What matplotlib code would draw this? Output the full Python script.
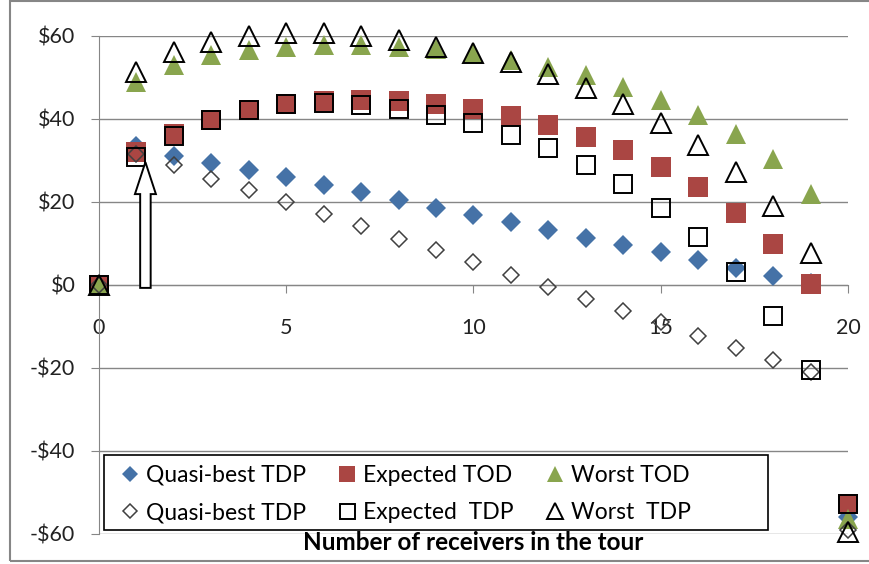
import matplotlib.pyplot as plt
from matplotlib.patches import FancyArrow, Rectangle

plt.rcParams['font.family'] = ['Lato', 'DejaVu Sans']

# numero de receptores no tour
receptores = list(range(21))

# TOD (marcadores cheios)
quasi_tod = [0, 33.5, 31.2, 29.4, 27.6, 26.0, 24.2, 22.3, 20.4, 18.6, 16.8,
             15.1, 13.2, 11.4, 9.6, 7.9, 6.0, 4.2, 2.2, 0.5, -55.8]
esperado_tod = [0, 32.0, 36.5, 39.8, 42.2, 43.5, 44.3, 44.6, 44.3, 43.5, 42.3,
                40.6, 38.5, 35.6, 32.5, 28.4, 23.5, 17.4, 9.8, 0.2, -52.8]
pior_tod = [0, 48.9, 53.0, 55.3, 56.6, 57.4, 57.8, 57.8, 57.4, 56.9, 55.8,
            54.1, 52.6, 50.5, 47.8, 44.6, 40.9, 36.3, 30.3, 21.9, -56.5]

# TDP (marcadores vazios)
quasi_tdp = [0, 31.6, 29.0, 25.6, 22.8, 20.0, 17.2, 14.3, 11.2, 8.4, 5.5,
             2.4, -0.4, -3.4, -6.2, -9.0, -12.2, -15.1, -18.0, -21.0, -59.0]
esperado_tdp = [0, 30.8, 36.0, 39.8, 42.2, 43.5, 43.8, 43.4, 42.5, 41.0, 39.0,
                36.2, 33.0, 29.0, 24.3, 18.6, 11.6, 3.2, -7.5, -20.6, -52.8]
pior_tdp = [0, 51.4, 56.1, 58.6, 60.1, 60.6, 60.6, 60.1, 59.0, 57.4, 55.8,
            53.7, 50.9, 47.4, 43.7, 39.1, 33.8, 27.2, 19.0, 7.6, -59.5]

y_ticks = [-60, -40, -20, 0, 20, 40, 60]
y_labels = ['-$60', '-$40', '-$20', '$0', '$20', '$40', '$60']
x_ticks = [0, 5, 10, 15, 20]

azul = '#4572A7'
vermelho = '#AA4643'
verde = '#89A54E'
cinza = '#868686'

fig = plt.figure(figsize=(8.69, 5.64), dpi=100)
ax = fig.add_axes([0.1139, 0.0532, 0.8619, 0.883])

h1, = ax.plot(receptores, quasi_tod, 'D', color=azul, ms=10, mew=0, clip_on=False, zorder=3)
h2, = ax.plot(receptores, esperado_tod, 's', color=vermelho, ms=14, mew=0, clip_on=False, zorder=3)
h3, = ax.plot(receptores, pior_tod, '^', color=verde, ms=14.5, mew=0, clip_on=False, zorder=3)
h4, = ax.plot(receptores, quasi_tdp, 'D', mfc='none', mec='#404040', ms=8.5, mew=1.1, clip_on=False, zorder=4)
h5, = ax.plot(receptores, esperado_tdp, 's', mfc='none', mec='black', ms=13.5, mew=1.4, clip_on=False, zorder=4)
h6, = ax.plot(receptores, pior_tdp, '^', mfc='none', mec='black', ms=14.5, mew=1.4, clip_on=False, zorder=4)

# seta indicando o ponto com 1 receptor
seta = FancyArrow(1.24, -0.7, 0, 30.3, width=0.28, head_width=0.56, head_length=7.7,
                  length_includes_head=True, fc='white', ec='black', lw=1.4, zorder=5)
ax.add_patch(seta)

ax.set_xlim(0, 20)
ax.set_ylim(-60, 60)
ax.set_yticks(y_ticks)
ax.set_yticklabels(y_labels)
ax.set_xticks(x_ticks)
ax.grid(axis='y', color=cinza, lw=1)
ax.set_axisbelow(True)

for lado in ['top', 'right']:
    ax.spines[lado].set_visible(False)
ax.spines['left'].set_color(cinza)
ax.spines['bottom'].set_color(cinza)
ax.spines['bottom'].set_position(('data', 0))

ax.tick_params(axis='y', direction='out', length=6, color=cinza, pad=11, labelsize=15.5, labelcolor='#222222')
ax.tick_params(axis='x', direction='out', length=6, color=cinza, pad=18, labelsize=15.5, labelcolor='#222222')

ax.text(0.5, -0.018, 'Number of receivers in the tour', transform=ax.transAxes,
        ha='center', va='center', fontsize=17.5, fontweight='bold')

# caixa da legenda desenhada a parte
caixa = Rectangle((0.0067, 0.008), 0.8866, 0.1506, transform=ax.transAxes,
                  facecolor='white', edgecolor='black', lw=1.2, zorder=6, clip_on=False)
ax.add_patch(caixa)

leg = ax.legend([h1, h4, h2, h5, h3, h6],
                ['Quasi-best TDP', 'Quasi-best TDP', 'Expected TOD', 'Expected  TDP',
                 'Worst TOD', 'Worst  TDP'],
                ncol=3, loc='upper left', bbox_to_anchor=(0.016, 0.1586),
                frameon=False, fontsize=16.5, handlelength=0.8, handletextpad=0.3,
                borderpad=0.43, labelspacing=0.72, columnspacing=1.4, borderaxespad=0,
                markerscale=0.8)
leg.set_zorder(7)

fig.patches.append(Rectangle((10 / 869, 3 / 564), 870 / 869, 560 / 564, transform=fig.transFigure,
                             fill=False, edgecolor=cinza, lw=1.5))

fig.savefig('out.png', dpi=100)
